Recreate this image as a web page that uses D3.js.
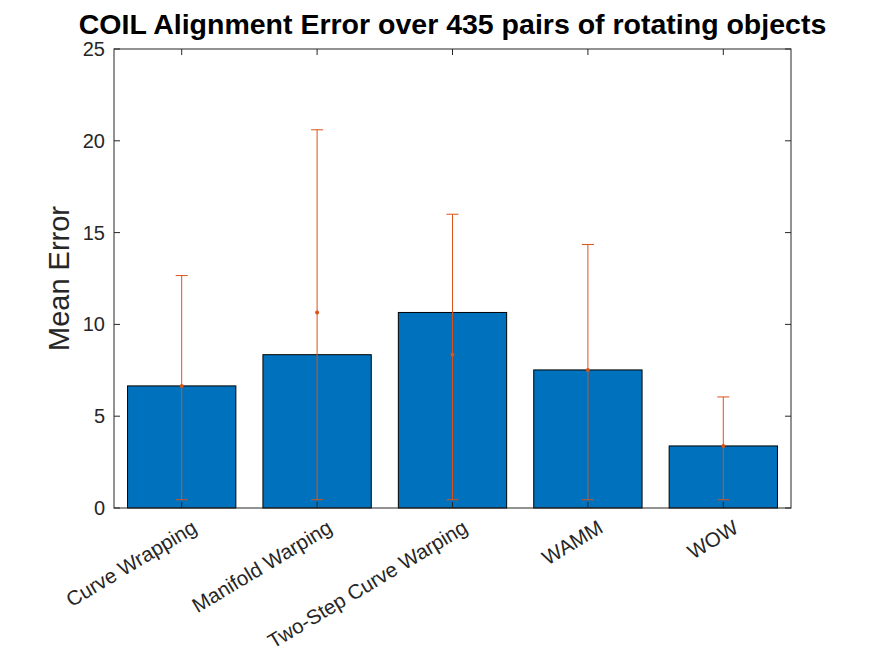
<!DOCTYPE html>
<html>
<head>
<meta charset="utf-8">
<script src="https://cdn.jsdelivr.net/npm/d3@7"></script>
<style>
  body { margin: 0; background: #fff; }
  text { font-family: "Liberation Sans", Arial, Helvetica, sans-serif; }
</style>
</head>
<body>
<svg id="chart"></svg>
<script>
(function() {

// data
const methods = ["Curve Wrapping", "Manifold Warping", "Two-Step Curve Warping", "WAMM", "WOW"];
const meanError = [6.65, 8.35, 10.65, 7.52, 3.38];
// error bar centres (as plotted, not matching bars 2 and 3)
const errCenter = [6.65, 10.65, 8.35, 7.52, 3.38];
const errLow = [0.45, 0.45, 0.45, 0.45, 0.45];
const errHigh = [12.66, 20.6, 16.0, 14.35, 6.05];
const yTicks = [0, 5, 10, 15, 20, 25];

const W = 875, H = 656;
const margin = { top: 49, right: 84, bottom: 148, left: 114 };
const width = W - margin.left - margin.right;
const height = H - margin.top - margin.bottom;

const root = d3.select("#chart").attr("width", W).attr("height", H);
const svg = root.append("g").attr("transform", `translate(${margin.left},${margin.top})`);

// matlab style: x from 0.5 to 5.5, bar width 0.8
const x = d3.scaleLinear().domain([0.5, methods.length + 0.5]).range([0, width]);
const y = d3.scaleLinear().domain([0, 25]).range([height, 0]);
const barW = x(1.4) - x(0.6);

const data = methods.map((m, i) => ({
  name: m, idx: i + 1, v: meanError[i],
  c: errCenter[i], lo: errLow[i], hi: errHigh[i]
}));

// bars
svg.selectAll(".bar")
  .data(data)
  .enter().append("rect")
  .attr("class", "bar")
  .attr("x", d => x(d.idx) - barW / 2)
  .attr("y", d => y(d.v))
  .attr("width", barW)
  .attr("height", d => y(0) - y(d.v))
  .attr("fill", "#0072BD")
  .attr("stroke", "#000")
  .attr("stroke-width", 1);

// error bars
const errCol = "#D95319";
const capW = 6;
const eb = svg.selectAll(".err").data(data).enter().append("g").attr("class", "err");
eb.append("line")
  .attr("x1", d => x(d.idx)).attr("x2", d => x(d.idx))
  .attr("y1", d => y(d.lo)).attr("y2", d => y(d.hi))
  .attr("stroke", errCol).attr("stroke-width", 1);
eb.append("line")
  .attr("x1", d => x(d.idx) - capW).attr("x2", d => x(d.idx) + capW)
  .attr("y1", d => y(d.hi)).attr("y2", d => y(d.hi))
  .attr("stroke", errCol).attr("stroke-width", 1);
eb.append("line")
  .attr("x1", d => x(d.idx) - capW).attr("x2", d => x(d.idx) + capW)
  .attr("y1", d => y(d.lo)).attr("y2", d => y(d.lo))
  .attr("stroke", errCol).attr("stroke-width", 1);
eb.append("circle")
  .attr("cx", d => x(d.idx)).attr("cy", d => y(d.c))
  .attr("r", 2).attr("fill", errCol);

// axes box
const axCol = "#262626";
const tickLen = 6;
svg.append("rect")
  .attr("x", 0).attr("y", 0).attr("width", width).attr("height", height)
  .attr("fill", "none").attr("stroke", axCol).attr("stroke-width", 1);

// y ticks left + right (inward)
const yAxis = svg.append("g");
yTicks.forEach(t => {
  yAxis.append("line").attr("x1", 0).attr("x2", tickLen)
    .attr("y1", y(t)).attr("y2", y(t)).attr("stroke", axCol);
  yAxis.append("line").attr("x1", width - tickLen).attr("x2", width)
    .attr("y1", y(t)).attr("y2", y(t)).attr("stroke", axCol);
  yAxis.append("text")
    .attr("x", -9).attr("y", y(t)).attr("dy", "0.35em")
    .attr("text-anchor", "end")
    .style("font-size", "20px").attr("fill", axCol)
    .text(t);
});

// x ticks bottom + top
const xAxis = svg.append("g");
data.forEach(d => {
  xAxis.append("line").attr("x1", x(d.idx)).attr("x2", x(d.idx))
    .attr("y1", height).attr("y2", height - tickLen).attr("stroke", axCol);
  xAxis.append("line").attr("x1", x(d.idx)).attr("x2", x(d.idx))
    .attr("y1", 0).attr("y2", tickLen).attr("stroke", axCol);
  xAxis.append("text")
    .attr("transform", `translate(${x(d.idx) + 9},${height + 11}) rotate(-31)`)
    .attr("text-anchor", "end")
    .attr("dy", "0.71em")
    .style("font-size", "20.5px").attr("fill", axCol)
    .text(d.name);
});

// y label
root.append("text")
  .attr("transform", `translate(69,${margin.top + height / 2}) rotate(-90)`)
  .attr("text-anchor", "middle")
  .style("font-size", "29px").attr("fill", axCol)
  .text("Mean Error");

// title
root.append("text")
  .attr("x", margin.left + width / 2).attr("y", 34)
  .attr("text-anchor", "middle")
  .style("font-size", "28.5px").style("font-weight", "bold").attr("fill", "#000")
  .text("COIL Alignment Error over 435 pairs of rotating objects");

})();
</script>
</body>
</html>
